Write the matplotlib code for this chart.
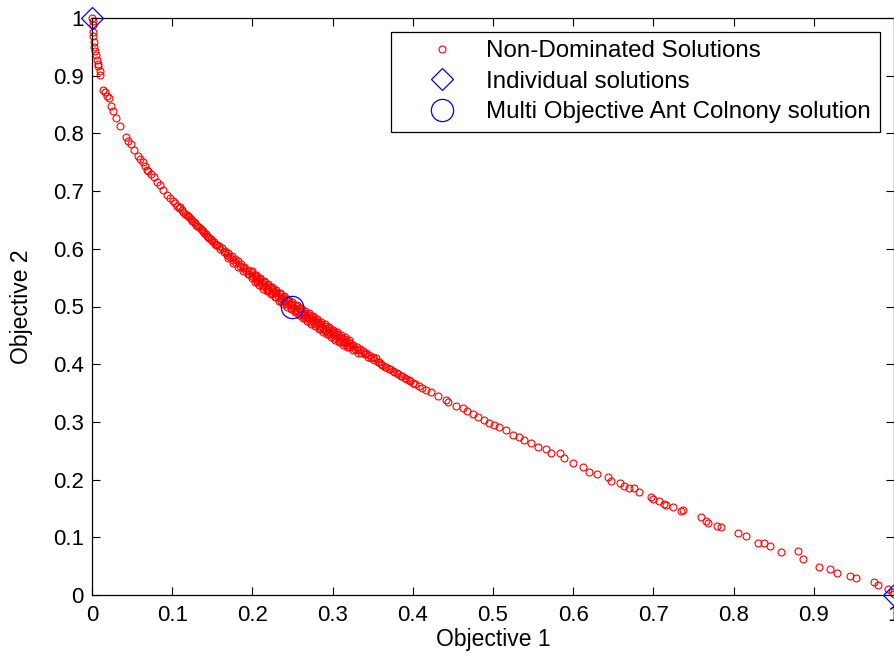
import matplotlib
matplotlib.use("Agg")
import matplotlib.pyplot as plt
from matplotlib.lines import Line2D

plt.rcParams['font.family'] = ['Liberation Sans', 'DejaVu Sans']

# ---- data ----
# points close to the Objective-2 axis (x ~ 0 .. 0.16)
x_head = [0.000, 0.001, 0.001, 0.001, 0.001, 0.002, 0.003, 0.004, 0.005, 0.006,
          0.0075, 0.008, 0.0096, 0.0104, 0.014, 0.016, 0.019, 0.0217, 0.024, 0.026,
          0.030, 0.035, 0.042, 0.045, 0.049, 0.052, 0.057, 0.060, 0.063, 0.066,
          0.068, 0.070, 0.073, 0.0775, 0.081, 0.085, 0.089, 0.093, 0.0975, 0.1016,
          0.106, 0.109, 0.112, 0.114, 0.116, 0.118, 0.120, 0.123, 0.127, 0.130,
          0.133, 0.136, 0.139, 0.142, 0.145, 0.148, 0.152, 0.155, 0.158]
y_head = [1.000, 0.995, 0.988, 0.976, 0.968, 0.959, 0.950, 0.942, 0.936, 0.927,
          0.920, 0.916, 0.909, 0.901, 0.876, 0.872, 0.864, 0.861, 0.847, 0.838,
          0.826, 0.812, 0.793, 0.787, 0.782, 0.771, 0.760, 0.755, 0.751, 0.744,
          0.737, 0.735, 0.730, 0.724, 0.716, 0.711, 0.702, 0.693, 0.688, 0.682,
          0.674, 0.671, 0.667, 0.664, 0.661, 0.659, 0.656, 0.651, 0.647, 0.641,
          0.638, 0.634, 0.630, 0.625, 0.621, 0.617, 0.612, 0.607, 0.604]
x_head_extra = [0.104, 0.110, 0.121, 0.125, 0.128, 0.131, 0.137, 0.140, 0.143,
                0.146, 0.150, 0.153, 0.156]
y_head_extra = [0.680, 0.672, 0.655, 0.649, 0.645, 0.640, 0.633, 0.628, 0.623,
                0.619, 0.614, 0.609, 0.606]

# dense band, centre row (x ~ 0.16 .. 0.42)
x_band_a = [0.160, 0.164, 0.168, 0.172, 0.176, 0.180, 0.184, 0.188, 0.192, 0.196,
            0.200, 0.204, 0.208, 0.212, 0.216, 0.220, 0.224, 0.228, 0.232, 0.236,
            0.240, 0.244, 0.248, 0.252, 0.256, 0.260, 0.264, 0.268, 0.272, 0.276,
            0.280, 0.284, 0.288, 0.292, 0.296, 0.300, 0.304, 0.308, 0.312, 0.316,
            0.320, 0.324, 0.328, 0.332, 0.336, 0.340, 0.344, 0.348, 0.352, 0.356,
            0.360, 0.365, 0.370, 0.375, 0.380, 0.385, 0.390, 0.395, 0.400, 0.403,
            0.408, 0.412, 0.417]
y_band_a = [0.600, 0.595, 0.590, 0.585, 0.580, 0.576, 0.571, 0.566, 0.562, 0.557,
            0.553, 0.548, 0.544, 0.540, 0.535, 0.531, 0.527, 0.523, 0.518, 0.514,
            0.510, 0.506, 0.502, 0.498, 0.494, 0.490, 0.486, 0.482, 0.478, 0.475,
            0.471, 0.467, 0.463, 0.460, 0.456, 0.452, 0.449, 0.445, 0.441, 0.438,
            0.434, 0.431, 0.427, 0.424, 0.420, 0.417, 0.413, 0.410, 0.407, 0.403,
            0.400, 0.396, 0.392, 0.388, 0.384, 0.380, 0.376, 0.372, 0.368, 0.366,
            0.362, 0.359, 0.356]

# dense band, upper row
x_band_b = [0.162, 0.166, 0.170, 0.174, 0.178, 0.182, 0.186, 0.190, 0.194, 0.198,
            0.202, 0.206, 0.210, 0.214, 0.218, 0.222, 0.226, 0.230, 0.234, 0.238,
            0.242, 0.246, 0.250, 0.254, 0.258, 0.262, 0.266, 0.270, 0.274, 0.278,
            0.282, 0.286, 0.290, 0.294, 0.298, 0.302, 0.306, 0.310, 0.314, 0.318,
            0.322, 0.326, 0.330, 0.334, 0.338, 0.342, 0.346, 0.350, 0.354, 0.358,
            0.362, 0.367, 0.372, 0.377, 0.382, 0.387, 0.392, 0.397]
y_band_b = [0.602, 0.597, 0.593, 0.588, 0.583, 0.578, 0.573, 0.569, 0.564, 0.560,
            0.555, 0.551, 0.547, 0.542, 0.538, 0.534, 0.530, 0.525, 0.521, 0.517,
            0.513, 0.509, 0.505, 0.501, 0.497, 0.493, 0.489, 0.485, 0.481, 0.478,
            0.474, 0.470, 0.466, 0.463, 0.459, 0.455, 0.452, 0.448, 0.444, 0.441,
            0.437, 0.434, 0.430, 0.427, 0.423, 0.420, 0.416, 0.413, 0.410, 0.404,
            0.399, 0.395, 0.391, 0.387, 0.383, 0.379, 0.375, 0.371]

# dense band, lower row
x_band_c = [0.170, 0.176, 0.182, 0.188, 0.194, 0.200, 0.206, 0.212, 0.218, 0.224,
            0.230, 0.236, 0.242, 0.248, 0.254, 0.260, 0.266, 0.272, 0.278, 0.284,
            0.290, 0.296, 0.302, 0.308, 0.314, 0.320, 0.326, 0.332]
y_band_c = [0.584, 0.576, 0.569, 0.562, 0.556, 0.549, 0.542, 0.536, 0.529, 0.523,
            0.516, 0.510, 0.504, 0.498, 0.492, 0.486, 0.480, 0.474, 0.469, 0.463,
            0.457, 0.452, 0.446, 0.441, 0.436, 0.430, 0.425, 0.420]

# dense band, outer upper row
x_band_d = [0.200, 0.205, 0.210, 0.215, 0.220, 0.225, 0.230, 0.235, 0.240, 0.245,
            0.250, 0.255, 0.260, 0.265, 0.270, 0.275, 0.280, 0.285, 0.290, 0.295,
            0.300, 0.305, 0.310, 0.315, 0.320]
y_band_d = [0.561, 0.555, 0.550, 0.544, 0.539, 0.534, 0.528, 0.523, 0.518, 0.513,
            0.508, 0.503, 0.498, 0.493, 0.488, 0.484, 0.479, 0.474, 0.470, 0.465,
            0.460, 0.456, 0.451, 0.447, 0.442]

# dense band, outer lower row
x_band_e = [0.203, 0.208, 0.213, 0.218, 0.223, 0.228, 0.233, 0.238, 0.243, 0.248,
            0.253, 0.258, 0.263, 0.268, 0.273, 0.278, 0.283, 0.288, 0.293, 0.298,
            0.303, 0.308, 0.313, 0.318]
y_band_e = [0.542, 0.537, 0.531, 0.526, 0.521, 0.516, 0.510, 0.505, 0.500, 0.495,
            0.490, 0.485, 0.480, 0.475, 0.470, 0.466, 0.461, 0.456, 0.452, 0.447,
            0.442, 0.438, 0.433, 0.429]

# sparser tail (x ~ 0.42 .. 1)
x_tail = [0.4225, 0.4317, 0.441, 0.444, 0.454, 0.462, 0.468, 0.4746, 0.481, 0.489,
          0.4954, 0.5016, 0.508, 0.516, 0.5246, 0.533, 0.539, 0.5475, 0.556, 0.566,
          0.5725, 0.583, 0.589, 0.5996, 0.612, 0.620, 0.6296, 0.643, 0.6467, 0.658,
          0.663, 0.669, 0.676, 0.682, 0.6967, 0.6996, 0.7067, 0.7133, 0.716, 0.7246,
          0.734, 0.7367, 0.759, 0.766, 0.768, 0.779, 0.784, 0.806, 0.815, 0.831,
          0.838, 0.8454, 0.859, 0.880, 0.886, 0.907, 0.920, 0.929, 0.945, 0.952,
          0.9746, 0.980, 0.9925, 0.9975, 1.000]
y_tail = [0.352, 0.345, 0.338, 0.335, 0.3276, 0.3235, 0.319, 0.313, 0.308, 0.303,
          0.2986, 0.2946, 0.2906, 0.286, 0.2773, 0.274, 0.2686, 0.263, 0.257, 0.2525,
          0.2466, 0.2456, 0.237, 0.229, 0.2224, 0.2137, 0.2097, 0.205, 0.198, 0.1947,
          0.189, 0.185, 0.185, 0.179, 0.170, 0.1664, 0.1634, 0.1577, 0.156, 0.152,
          0.146, 0.1473, 0.1346, 0.1288, 0.1253, 0.1196, 0.1173, 0.108, 0.1023, 0.0907,
          0.0907, 0.085, 0.075, 0.0763, 0.0619, 0.049, 0.0445, 0.0376, 0.033, 0.030,
          0.023, 0.0173, 0.0098, 0.0046, 0.002]

# individual (single objective) solutions and the ant colony solution
x_individual = [0.0, 1.0]
y_individual = [1.0, 0.0]
x_aco = [0.25]
y_aco = [0.5]

legend_labels = ['Non-Dominated Solutions', 'Individual solutions',
                 'Multi Objective Ant Colnony solution']
x_ticks = [0, 0.1, 0.2, 0.3, 0.4, 0.5, 0.6, 0.7, 0.8, 0.9, 1]
y_ticks = [0, 0.1, 0.2, 0.3, 0.4, 0.5, 0.6, 0.7, 0.8, 0.9, 1]
tick_labels = ['0', '0.1', '0.2', '0.3', '0.4', '0.5', '0.6', '0.7', '0.8', '0.9', '1']

# ---- figure ----
W, H = 895, 657
fig = plt.figure(figsize=(W / 100, H / 100), dpi=100)
ax_left, ax_right, ax_top, ax_bottom = 92, 894, 18, 595
ax = fig.add_axes([ax_left / W, (H - ax_bottom) / H,
                   (ax_right - ax_left) / W, (ax_bottom - ax_top) / H])

x_front = x_head + x_head_extra + x_band_a + x_band_b + x_band_c + x_band_d + x_band_e + x_tail
y_front = y_head + y_head_extra + y_band_a + y_band_b + y_band_c + y_band_d + y_band_e + y_tail

ax.plot(x_front, y_front, linestyle='none', marker='o', markersize=5,
        markerfacecolor='none', markeredgecolor='#ff0000', markeredgewidth=0.8,
        clip_on=False, zorder=2)
ax.plot(x_individual, y_individual, linestyle='none', marker='D', markersize=11,
        markerfacecolor='none', markeredgecolor='#0000ff', markeredgewidth=0.9,
        clip_on=False, zorder=3)
ax.plot(x_aco, y_aco, linestyle='none', marker='o', markersize=16,
        markerfacecolor='none', markeredgecolor='#0000ff', markeredgewidth=0.9,
        clip_on=False, zorder=3)

ax.set_xlim(0, 1)
ax.set_ylim(0, 1)
ax.set_xticks(x_ticks)
ax.set_yticks(y_ticks)
ax.set_xticklabels(tick_labels)
ax.set_yticklabels(tick_labels)
ax.tick_params(axis='both', direction='in', length=6, width=0.8,
               top=True, right=True, labelsize=16, colors='black')
ax.tick_params(axis='x', pad=7)
ax.tick_params(axis='y', pad=6)
for s in ax.spines.values():
    s.set_linewidth(0.9)
    s.set_color('black')

ax.set_xlabel('Objective 1', fontsize=16.5)
ax.set_ylabel('Objective 2', fontsize=16.5)
ax.xaxis.set_label_coords(0.5, -(628 - 595) / 577)
ax.yaxis.set_label_coords(-(92 - 33) / 802, 0.5)

handles = [
    Line2D([], [], linestyle='none', marker='o', markersize=5,
           markerfacecolor='none', markeredgecolor='#ff0000', markeredgewidth=0.8),
    Line2D([], [], linestyle='none', marker='D', markersize=11,
           markerfacecolor='none', markeredgecolor='#0000ff', markeredgewidth=0.9),
    Line2D([], [], linestyle='none', marker='o', markersize=16,
           markerfacecolor='none', markeredgecolor='#0000ff', markeredgewidth=0.9),
]
leg = ax.legend(handles, legend_labels, loc='upper left',
                bbox_to_anchor=((391 - 92) / 802, (595 - 32) / 577),
                borderaxespad=0, fontsize=17.4, frameon=True, fancybox=False,
                framealpha=1, edgecolor='black', borderpad=0.35,
                labelspacing=0.35, handlelength=3.55, handletextpad=0.05)
leg.get_frame().set_linewidth(0.9)

fig.savefig('out.png', dpi=100)
